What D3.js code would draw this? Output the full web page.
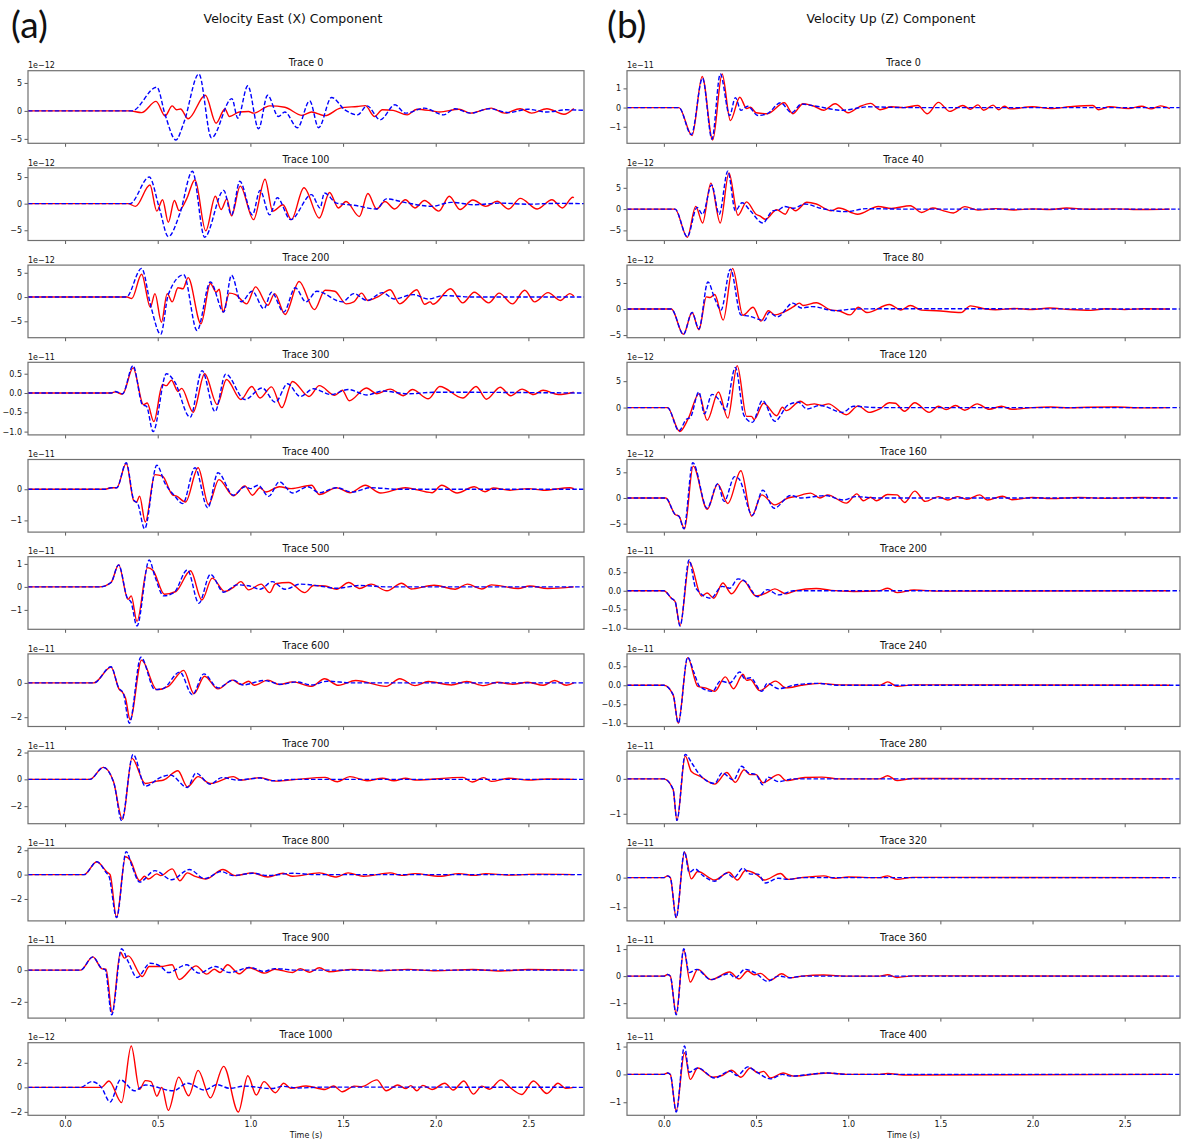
<!DOCTYPE html>
<html>
<head>
<meta charset="utf-8">
<script src="https://cdn.jsdelivr.net/npm/d3@7"></script>
<style>
  body { margin: 0; background: #fff; }
  svg text { font-family: "DejaVu Sans", sans-serif; fill: #111; }
</style>
</head>
<body>
<svg id="chart"></svg>
<script>
// time axis
const timeDomain = [-0.2, 2.8]
const timeTicks = [0, 0.5, 1.0, 1.5, 2.0, 2.5]

// left column: velocity east (X)
const eastTitles = ["Trace 0", "Trace 100", "Trace 200", "Trace 300", "Trace 400", "Trace 500",
                    "Trace 600", "Trace 700", "Trace 800", "Trace 900", "Trace 1000"]
const eastExp = ["1e−12", "1e−12", "1e−12", "1e−11", "1e−11", "1e−11",
                 "1e−11", "1e−11", "1e−11", "1e−11", "1e−12"]
const eastTicks = [[-5, 0, 5], [-5, 0, 5], [-5, 0, 5], [-1.0, -0.5, 0.0, 0.5], [-1, 0], [-1, 0, 1],
                   [-2, 0], [-2, 0, 2], [-2, 0, 2], [-2, 0], [-2, 0, 2]]

// right column: velocity up (Z)
const upTitles = ["Trace 0", "Trace 40", "Trace 80", "Trace 120", "Trace 160", "Trace 200",
                  "Trace 240", "Trace 280", "Trace 320", "Trace 360", "Trace 400"]
const upExp = ["1e−11", "1e−12", "1e−12", "1e−12", "1e−12", "1e−11",
               "1e−11", "1e−11", "1e−11", "1e−11", "1e−11"]
const upTicks = [[-1, 0, 1], [-5, 0, 5], [-5, 0, 5], [0, 5], [-5, 0, 5], [-1.0, -0.5, 0.0, 0.5],
                 [-1.0, -0.5, 0.0, 0.5], [-1, 0], [-1, 0], [-1, 0, 1], [-1, 0, 1]]

// traces, [time (s), value in units of the offset]; red = solid, blue = dashed
const east0Red = [[-0.2,0],[0.35,0],[0.413,-0.3],[0.491,1.7],[0.54,-0.9],[0.578,0.9],[0.602,0.2],[0.623,0.35],[0.664,-1.4],[0.757,2.8],[0.815,-2.2],[0.862,0.35],[0.887,-1.0],[0.94,-0.2],[0.99,-0.1],[1.017,-0.4],[1.104,0.9],[1.186,0.65],[1.279,-0.8],[1.33,-0.2],[1.403,-0.85],[1.485,0.5],[1.578,0.8],[1.62,0.95],[1.67,-1.0],[1.712,0.2],[1.77,0.1],[1.846,-0.7],[1.898,0.3],[1.98,0],[2.02,-0.2],[2.125,0.3],[2.187,-0.4],[2.3,0.5],[2.372,-0.4],[2.455,0.4],[2.517,-0.4],[2.6,0.4],[2.692,-0.6],[2.745,0.45]]
const east0Blue = [[-0.2,0],[0.36,0],[0.495,4.25],[0.54,-0.7],[0.598,-5.2],[0.64,-2.2],[0.722,6.6],[0.79,-4.8],[0.9,2.2],[0.932,-1.3],[0.986,4.5],[1.044,-3.2],[1.093,2.8],[1.151,-1.0],[1.186,-0.2],[1.254,-3.0],[1.32,1.8],[1.368,-3.0],[1.438,2.4],[1.51,0.2],[1.578,-0.7],[1.63,0.9],[1.7,-1.6],[1.78,1.1],[1.836,-0.4],[1.939,0.5],[2.042,-0.7],[2.104,0.4],[2.187,-0.4],[2.29,0.4],[2.393,-0.3],[2.496,0.3],[2.6,-0.2],[2.702,0.2],[2.8,0.1]]
const east100Red = [[-0.2,0],[0.34,0],[0.38,-0.5],[0.458,3.5],[0.495,-1.4],[0.526,0.75],[0.557,-3.5],[0.59,0.6],[0.615,-1.3],[0.656,0.9],[0.701,4.5],[0.759,-5.1],[0.811,1.4],[0.842,-1.1],[0.873,0.9],[0.898,-2.3],[0.945,3.3],[1.017,-3.0],[1.079,4.6],[1.12,-1.4],[1.176,-0.2],[1.221,-3.0],[1.289,3.0],[1.372,-2.7],[1.427,2.1],[1.475,-0.8],[1.516,0.4],[1.588,-2.4],[1.634,1.9],[1.681,-1.0],[1.726,0.4],[1.778,-1.0],[1.836,0.75],[1.888,-0.8],[1.939,0.6],[2.017,-1.4],[2.073,1.4],[2.131,-1.1],[2.2,0.7],[2.27,-0.5],[2.331,0.45],[2.394,-1.0],[2.456,1.0],[2.548,-1.0],[2.627,0.75],[2.683,-0.8],[2.74,1.2],[2.745,1.1]]
const east100Blue = [[-0.2,0],[0.35,0],[0.454,5.0],[0.51,-1.0],[0.557,-6.2],[0.62,-1.8],[0.687,6.1],[0.753,-6.3],[0.856,2.5],[0.898,-2.1],[0.943,4.2],[1.011,-2.1],[1.052,2.5],[1.104,-2.1],[1.145,1.1],[1.217,-3.0],[1.33,1.7],[1.376,-0.8],[1.399,2.0],[1.465,0.1],[1.56,-0.3],[1.681,-1.0],[1.733,0.9],[1.85,0.1],[1.98,-0.5],[2.083,0.25],[2.207,-0.2],[2.35,0.1],[2.5,-0.1],[2.65,0.05],[2.8,0]]
const east200Red = [[-0.2,0],[0.335,0],[0.36,-0.3],[0.413,4.7],[0.46,-2.1],[0.485,0.7],[0.52,-5.2],[0.551,0.7],[0.578,-1.0],[0.609,1.9],[0.636,1.7],[0.664,4.0],[0.733,-5.5],[0.784,2.8],[0.815,1.0],[0.832,1.6],[0.852,-3.1],[0.887,0.8],[0.92,0.5],[0.98,-1.4],[1.028,2.1],[1.094,-1.7],[1.131,0.7],[1.187,-3.6],[1.263,3.2],[1.345,-2.6],[1.403,1.4],[1.455,1.2],[1.517,-1.4],[1.558,-1.0],[1.6,0.8],[1.634,-0.7],[1.69,0.1],[1.754,1.5],[1.806,-1.4],[1.898,1.5],[1.94,-1.5],[1.97,-1.0],[1.985,-1.5],[2.08,1.7],[2.146,-1.2],[2.208,1.0],[2.286,-1.2],[2.342,0.8],[2.414,-1.4],[2.48,1.4],[2.534,-1.0],[2.606,0.9],[2.672,-0.7],[2.724,0.7],[2.745,0.2]]
const east200Blue = [[-0.2,0],[0.33,0],[0.413,5.9],[0.464,-2.1],[0.516,-7.7],[0.557,0.5],[0.64,4.6],[0.712,-6.9],[0.784,3.1],[0.856,-3.1],[0.898,4.5],[0.95,-1.0],[1.01,1.2],[1.073,-2.4],[1.114,1.0],[1.18,-3.1],[1.242,1.9],[1.3,-1.0],[1.358,1.2],[1.496,-1.0],[1.558,0.7],[1.63,-0.7],[1.713,0.9],[1.775,-0.4],[1.878,0.5],[1.96,-0.4],[2.043,0.3],[2.2,0],[2.8,0]]
const east300Red = [[-0.2,0],[0.25,0],[0.27,0.03],[0.31,-0.03],[0.367,0.65],[0.423,-0.3],[0.443,-0.26],[0.479,-0.74],[0.526,0.22],[0.547,0.19],[0.574,0.33],[0.609,0.04],[0.629,0.12],[0.691,-0.5],[0.753,0.5],[0.821,-0.3],[0.871,0.35],[0.949,-0.17],[1.007,0.17],[1.052,-0.13],[1.114,0.16],[1.17,-0.38],[1.227,0.3],[1.316,-0.09],[1.372,0.19],[1.455,-0.06],[1.496,0.07],[1.533,-0.2],[1.626,0.13],[1.682,-0.02],[1.754,0.1],[1.826,-0.07],[1.874,0.09],[1.96,-0.15],[2.022,0.17],[2.146,-0.13],[2.218,0.17],[2.274,-0.16],[2.348,0.15],[2.404,-0.07],[2.466,0.1],[2.528,-0.04],[2.579,0.07],[2.662,-0.04],[2.745,0.02]]
const east300Blue = [[-0.2,0],[0.25,0],[0.27,0.04],[0.31,-0.02],[0.367,0.71],[0.417,-0.3],[0.44,-0.35],[0.475,-1.0],[0.547,0.5],[0.59,0.3],[0.675,-0.63],[0.739,0.58],[0.809,-0.48],[0.867,0.49],[0.97,-0.17],[1.063,0.13],[1.135,-0.24],[1.2,0.24],[1.269,-0.09],[1.341,0.11],[1.434,-0.04],[1.527,0.09],[1.63,-0.05],[1.713,0.05],[1.85,-0.02],[2.0,0.02],[2.8,0]]
const east400Red = [[-0.2,0],[0.217,0],[0.248,0.05],[0.279,0.05],[0.33,0.83],[0.371,-0.37],[0.386,-0.41],[0.402,-0.22],[0.433,-1.05],[0.485,0.47],[0.526,0.42],[0.578,-0.17],[0.602,-0.22],[0.65,-0.41],[0.718,0.69],[0.774,-0.49],[0.83,0.31],[0.908,-0.21],[0.97,0.11],[1.011,-0.19],[1.052,0.05],[1.083,-0.09],[1.156,0.08],[1.22,0.02],[1.33,0.13],[1.372,-0.17],[1.465,0.05],[1.537,-0.11],[1.62,0.13],[1.702,-0.12],[1.836,0.05],[1.98,-0.11],[2.032,0.13],[2.115,-0.12],[2.208,0.08],[2.266,-0.08],[2.31,0.04],[2.4,-0.03],[2.5,0.02],[2.58,-0.03],[2.724,0.05],[2.745,0.02]]
const east400Blue = [[-0.2,0],[0.217,0],[0.248,0.05],[0.279,0.05],[0.33,0.85],[0.371,-0.35],[0.392,-0.46],[0.429,-1.27],[0.495,0.77],[0.54,0.18],[0.588,-0.19],[0.635,-0.46],[0.701,0.69],[0.77,-0.6],[0.825,0.53],[0.908,-0.19],[0.97,0.08],[1.0,0.02],[1.042,0.13],[1.098,-0.23],[1.156,0.24],[1.228,-0.12],[1.31,0.08],[1.372,-0.11],[1.465,0.05],[1.548,-0.09],[1.65,0.05],[1.8,0],[2.8,0]]
const east500Red = [[-0.2,0],[0.186,0],[0.248,0.19],[0.289,0.96],[0.34,-0.54],[0.357,-0.39],[0.388,-1.5],[0.445,0.84],[0.475,0.71],[0.536,-0.32],[0.598,-0.2],[0.677,0.7],[0.738,-0.57],[0.794,0.38],[0.862,-0.2],[0.908,-0.02],[0.949,0.23],[0.99,-0.13],[1.058,0.12],[1.104,-0.25],[1.135,0.14],[1.207,0.19],[1.293,-0.25],[1.341,0.06],[1.403,0.04],[1.465,-0.1],[1.531,0.19],[1.589,-0.07],[1.651,0.12],[1.737,-0.17],[1.816,0.16],[1.867,-0.09],[1.991,0.07],[2.105,-0.1],[2.171,0.12],[2.249,-0.09],[2.3,0.09],[2.445,-0.07],[2.507,0.04],[2.604,-0.07],[2.745,0]]
const east500Blue = [[-0.2,0],[0.186,0],[0.248,0.19],[0.289,0.96],[0.336,-0.49],[0.355,-0.64],[0.388,-1.7],[0.454,1.17],[0.485,0.45],[0.532,-0.39],[0.588,-0.25],[0.66,0.74],[0.722,-0.71],[0.784,0.55],[0.856,-0.23],[0.929,0.09],[0.99,0.05],[1.052,-0.1],[1.118,0.23],[1.187,-0.1],[1.269,0.12],[1.372,0.04],[1.465,-0.06],[1.59,0.06],[1.75,0],[2.8,0]]
const east600Red = [[-0.2,0],[0.155,0],[0.248,0.92],[0.293,-0.39],[0.31,-0.55],[0.326,-0.88],[0.351,-2.15],[0.413,1.33],[0.495,-0.39],[0.557,-0.2],[0.64,0.73],[0.695,-0.63],[0.753,0.39],[0.825,-0.35],[0.904,0.16],[0.949,-0.1],[0.99,0.1],[1.021,-0.14],[1.094,0.16],[1.156,-0.1],[1.228,0.06],[1.331,-0.2],[1.4,0.24],[1.475,-0.14],[1.568,0.14],[1.733,-0.2],[1.806,0.24],[1.888,-0.16],[1.96,0.08],[2.084,-0.12],[2.167,0.08],[2.26,-0.16],[2.332,0.04],[2.415,-0.08],[2.497,0.04],[2.58,-0.14],[2.642,0.14],[2.705,-0.14],[2.745,0]]
const east600Blue = [[-0.2,0],[0.155,0],[0.248,0.94],[0.289,-0.29],[0.314,-0.59],[0.347,-2.35],[0.409,1.5],[0.485,-0.39],[0.526,-0.35],[0.619,0.63],[0.687,-0.69],[0.749,0.53],[0.825,-0.29],[0.908,0.16],[0.96,-0.12],[1.073,0.14],[1.166,-0.08],[1.248,0.06],[1.331,-0.12],[1.414,0.1],[1.55,0],[2.8,0]]
const east700Red = [[-0.2,0],[0.134,0],[0.206,0.89],[0.26,-0.1],[0.31,-2.98],[0.361,1.56],[0.433,-0.31],[0.495,-0.13],[0.532,-0.05],[0.609,0.64],[0.66,-0.56],[0.718,0.2],[0.784,-0.31],[0.908,0.2],[0.949,-0.05],[1.052,0.13],[1.135,-0.13],[1.25,0],[1.403,0.15],[1.469,-0.18],[1.537,0.2],[1.63,-0.1],[1.713,0.08],[1.775,-0.1],[1.837,0.08],[1.889,-0.05],[2.146,0.15],[2.197,-0.2],[2.259,0.13],[2.3,-0.15],[2.394,0.08],[2.5,-0.05],[2.6,0.03],[2.745,0]]
const east700Blue = [[-0.2,0],[0.134,0],[0.206,0.89],[0.264,-0.31],[0.305,-3.06],[0.367,1.86],[0.433,-0.51],[0.516,0.15],[0.567,0.33],[0.66,-0.61],[0.706,0.46],[0.784,-0.36],[0.846,0.13],[0.929,-0.05],[1.052,0.1],[1.114,-0.1],[1.25,0],[2.8,0]]
const east800Red = [[-0.2,0],[0.103,0],[0.171,1.06],[0.227,0.2],[0.243,0],[0.278,-3.53],[0.326,1.47],[0.351,1.2],[0.402,-0.5],[0.429,-0.14],[0.45,-0.36],[0.495,0.06],[0.516,-0.08],[0.578,0.47],[0.619,-0.5],[0.66,0.14],[0.702,-0.14],[0.76,-0.36],[0.852,0.42],[0.918,-0.08],[1.011,0.14],[1.094,-0.2],[1.176,0.11],[1.228,-0.14],[1.372,0.14],[1.465,-0.2],[1.527,0.14],[1.61,-0.14],[1.754,0.14],[1.816,-0.06],[1.888,0.08],[2.022,-0.14],[2.125,0.08],[2.207,-0.06],[2.27,0.08],[2.4,-0.04],[2.55,0.04],[2.745,0]]
const east800Blue = [[-0.2,0],[0.103,0],[0.171,1.06],[0.223,0.14],[0.237,-0.14],[0.278,-3.53],[0.33,1.89],[0.361,0.7],[0.402,-0.61],[0.485,0.33],[0.574,-0.42],[0.671,0.42],[0.753,-0.33],[0.842,0.25],[0.908,-0.08],[1.011,0.11],[1.094,-0.08],[1.228,0.11],[1.35,0],[2.8,0]]
const east900Red = [[-0.2,0],[0.083,0],[0.15,0.84],[0.2,0.08],[0.221,0.06],[0.254,-2.67],[0.299,1.14],[0.32,0.76],[0.341,0.9],[0.417,-0.4],[0.454,0.23],[0.516,0.23],[0.578,0.34],[0.615,-0.59],[0.706,0.27],[0.764,-0.25],[0.805,0.06],[0.836,-0.15],[0.877,0.34],[0.939,-0.23],[0.99,0.17],[1.079,-0.19],[1.131,0.06],[1.228,-0.15],[1.269,0.1],[1.32,-0.13],[1.372,0.15],[1.424,-0.1],[1.55,0.05],[1.7,-0.05],[1.85,0.05],[2.0,-0.04],[2.2,0.04],[2.35,-0.05],[2.5,0.04],[2.745,0]]
const east900Blue = [[-0.2,0],[0.083,0],[0.15,0.84],[0.196,0.13],[0.217,0.02],[0.252,-2.82],[0.305,1.35],[0.34,0.55],[0.388,-0.46],[0.46,0.44],[0.516,0.23],[0.557,-0.15],[0.656,0.34],[0.722,-0.19],[0.811,0.23],[0.887,-0.15],[1.0,0.17],[1.073,-0.08],[1.131,0.1],[1.25,0],[2.8,0]]
const east1000Red = [[-0.2,0],[0.196,0],[0.237,0.52],[0.305,-1.24],[0.357,3.37],[0.402,-0.16],[0.433,0.55],[0.464,0.47],[0.495,-0.72],[0.522,0],[0.557,-1.88],[0.613,0.83],[0.667,-0.69],[0.718,1.38],[0.784,-0.86],[0.856,1.71],[0.935,-2.01],[0.986,0.94],[1.032,-0.63],[1.073,0.47],[1.135,-0.44],[1.18,0.33],[1.217,-0.08],[1.3,0.11],[1.403,-0.17],[1.449,0.11],[1.496,-0.36],[1.56,0.1],[1.6,0.05],[1.682,0.61],[1.733,-0.28],[1.795,0.19],[1.84,-0.1],[1.866,0.14],[1.898,-0.28],[1.93,0.16],[1.98,-0.17],[2.049,0.33],[2.094,-0.22],[2.152,0.52],[2.203,-0.55],[2.249,0.1],[2.29,-0.15],[2.352,0.61],[2.4,0],[2.465,-0.58],[2.527,0.52],[2.6,-0.5],[2.66,0.33],[2.7,-0.08],[2.745,0]]
const east1000Blue = [[-0.2,0],[0.083,0],[0.144,0.47],[0.196,0],[0.243,-1.19],[0.299,0.61],[0.375,-0.28],[0.433,0.19],[0.584,-0.28],[0.66,0.33],[0.753,-0.22],[0.821,0.22],[0.887,-0.08],[0.97,0.1],[1.114,-0.1],[1.176,0.08],[1.258,-0.05],[1.4,0.02],[2.8,0]]

const up0Red = [[-0.2,0],[0.082,0],[0.153,-1.46],[0.208,1.62],[0.265,-1.69],[0.316,1.75],[0.361,-0.68],[0.412,0.54],[0.449,-0.05],[0.47,0.02],[0.5,-0.27],[0.561,-0.32],[0.653,0.25],[0.7,-0.32],[0.755,0.2],[0.816,0.07],[0.867,-0.14],[0.929,0.2],[1.0,-0.27],[1.06,0.04],[1.122,0.22],[1.173,-0.11],[1.235,0.04],[1.3,0],[1.378,0.11],[1.429,-0.32],[1.49,0.27],[1.551,-0.2],[1.622,0.11],[1.663,-0.09],[1.704,0.14],[1.735,-0.14],[1.786,0.13],[1.816,-0.11],[1.847,0.07],[1.878,-0.07],[2.0,0.04],[2.1,-0.05],[2.2,0.04],[2.327,0.11],[2.357,-0.11],[2.418,0.04],[2.52,-0.05],[2.592,0.07],[2.643,-0.07],[2.694,0.09],[2.745,-0.05]]
const up0Blue = [[-0.2,0],[0.082,0],[0.149,-1.41],[0.21,1.53],[0.261,-1.64],[0.306,1.75],[0.357,-0.41],[0.388,0.52],[0.418,-0.14],[0.455,0.07],[0.51,-0.41],[0.561,-0.32],[0.633,0.25],[0.694,-0.27],[0.745,0.18],[0.827,0.07],[0.965,-0.14],[1.112,0.04],[1.3,0],[2.8,0]]
const up40Red = [[-0.2,0],[0.061,0],[0.127,-6.6],[0.173,0.65],[0.21,-3.25],[0.255,6.1],[0.306,-3.25],[0.353,8.5],[0.402,-1.46],[0.449,1.7],[0.5,-1.2],[0.52,-1.6],[0.551,-2.4],[0.612,-0.16],[0.659,-1.2],[0.684,0.4],[0.714,-0.4],[0.776,1.6],[0.827,1.2],[0.908,-0.4],[0.949,0.25],[1.051,-1.2],[1.163,0.6],[1.235,0.16],[1.337,0.8],[1.398,-0.8],[1.459,0.25],[1.51,-0.3],[1.571,-0.9],[1.633,0.57],[1.704,-0.25],[1.8,0.1],[1.9,-0.2],[2.0,0.05],[2.1,-0.1],[2.184,0.25],[2.3,-0.05],[2.45,0.05],[2.6,-0.1],[2.745,0]]
const up40Blue = [[-0.2,0],[0.061,0],[0.127,-6.5],[0.18,0.4],[0.21,-1.2],[0.259,5.7],[0.3,-1.2],[0.347,8.9],[0.388,-0.4],[0.424,1.5],[0.469,-0.4],[0.537,-3.25],[0.59,-0.4],[0.622,-0.2],[0.653,0.6],[0.704,0.2],[0.765,1.2],[0.85,0.2],[0.99,-0.6],[1.1,0.1],[1.3,0],[2.8,0]]
const up80Red = [[-0.2,0],[0.041,0],[0.106,-4.87],[0.153,-0.67],[0.19,-4.0],[0.231,2.33],[0.251,2.2],[0.276,2.8],[0.322,-2.13],[0.373,7.8],[0.429,-1.2],[0.484,0.33],[0.527,-2.33],[0.567,-0.33],[0.602,-1.13],[0.65,-0.6],[0.704,0.47],[0.735,1.13],[0.755,0.67],[0.827,1.2],[0.908,-0.2],[0.949,-0.33],[1.01,-1.13],[1.055,0.33],[1.102,-0.67],[1.224,0.87],[1.286,-0.2],[1.337,0.67],[1.398,-0.2],[1.48,-0.33],[1.612,-0.67],[1.663,0.6],[1.745,0],[1.8,-0.15],[1.9,0.1],[2.0,-0.1],[2.092,0.2],[2.2,-0.1],[2.316,-0.25],[2.4,0.05],[2.5,-0.1],[2.6,0.05],[2.745,0]]
const up80Blue = [[-0.2,0],[0.041,0],[0.106,-4.87],[0.153,-0.67],[0.19,-3.8],[0.239,5.2],[0.276,2.0],[0.31,-0.2],[0.361,7.67],[0.418,-1.13],[0.459,-1.33],[0.547,-2.2],[0.571,-0.67],[0.616,-1.5],[0.7,1.13],[0.745,0.2],[0.806,0.47],[0.929,-0.33],[1.03,0],[1.2,0.05],[2.8,0]]
const up120Red = [[-0.2,0],[0.02,0],[0.086,-4.55],[0.133,-2.05],[0.19,2.6],[0.235,-2.4],[0.296,2.95],[0.347,-2.0],[0.398,7.95],[0.449,-1.67],[0.475,-1.67],[0.49,-2.25],[0.541,0.83],[0.612,-1.54],[0.643,0.06],[0.663,-0.58],[0.741,1.2],[0.776,0.5],[0.816,0.7],[0.857,0.4],[0.892,0.7],[0.99,-1.35],[1.055,0.32],[1.112,-0.9],[1.173,-0.2],[1.224,0.9],[1.255,0.83],[1.306,-0.7],[1.361,0.9],[1.439,-0.9],[1.49,0.26],[1.531,-0.38],[1.582,0.38],[1.633,-0.5],[1.7,0.7],[1.765,-0.32],[1.831,0.26],[1.888,-0.32],[2.0,0],[2.1,0.1],[2.2,-0.05],[2.3,0.05],[2.45,0.1],[2.6,-0.05],[2.745,0]]
const up120Blue = [[-0.2,0],[0.02,0],[0.082,-4.4],[0.122,-2.2],[0.143,-1.9],[0.19,2.95],[0.22,-1.2],[0.261,2.5],[0.302,1.35],[0.333,-0.45],[0.388,7.6],[0.435,-1.54],[0.48,-2.8],[0.535,1.35],[0.602,-2.6],[0.673,0.45],[0.73,1.0],[0.776,-0.26],[0.847,0.4],[0.969,-0.9],[1.03,0.26],[1.15,0],[2.8,0]]
const up160Red = [[-0.2,0],[0.01,0],[0.061,-3.2],[0.082,-3.55],[0.112,-6.0],[0.159,6.2],[0.235,-2.2],[0.292,2.7],[0.347,-1.07],[0.418,5.3],[0.476,-3.55],[0.531,0.6],[0.602,-1.34],[0.673,0],[0.714,0.27],[0.796,0.94],[0.847,0],[0.888,0.6],[0.99,-1.0],[1.047,0.8],[1.082,-0.54],[1.122,0.13],[1.153,-0.54],[1.214,0.67],[1.265,0.6],[1.306,-0.87],[1.361,1.34],[1.418,-0.67],[1.49,0.27],[1.541,-0.4],[1.592,0.27],[1.643,-0.27],[1.714,0.6],[1.755,-0.4],[1.837,0.33],[1.888,-0.33],[2.0,0.1],[2.1,-0.1],[2.25,0.1],[2.4,-0.05],[2.6,0.1],[2.745,0]]
const up160Blue = [[-0.2,0],[0.01,0],[0.061,-3.2],[0.082,-3.55],[0.108,-6.0],[0.157,6.85],[0.235,-2.0],[0.292,2.8],[0.327,-0.67],[0.384,4.15],[0.408,3.7],[0.48,-3.35],[0.537,1.5],[0.598,-2.0],[0.688,0.47],[0.745,0],[0.878,0.47],[0.973,-0.4],[1.04,0.27],[1.15,0],[2.8,0]]
const up200Red = [[-0.2,0],[0,0],[0.041,-0.2],[0.061,-0.29],[0.088,-0.94],[0.139,0.78],[0.204,-0.14],[0.235,-0.06],[0.271,-0.2],[0.32,0.21],[0.367,-0.08],[0.429,0.28],[0.5,-0.14],[0.551,-0.07],[0.602,0.05],[0.663,-0.08],[0.714,0],[0.827,0.06],[0.908,0.01],[1.031,-0.02],[1.17,0],[1.214,0.07],[1.265,-0.05],[1.357,0.02],[1.5,-0.01],[2.745,0]]
const up200Blue = [[-0.2,0],[0,0],[0.041,-0.2],[0.061,-0.29],[0.088,-0.95],[0.137,0.83],[0.173,0.07],[0.255,-0.2],[0.316,0.12],[0.357,0.07],[0.402,0.32],[0.439,0.26],[0.51,-0.16],[0.561,0.03],[0.622,-0.11],[0.704,0],[2.8,0]]
const up240Red = [[-0.2,0],[0,0],[0.051,-0.26],[0.078,-1.0],[0.129,0.73],[0.184,-0.03],[0.224,-0.07],[0.276,-0.16],[0.333,0.22],[0.378,-0.09],[0.429,0.29],[0.449,0.13],[0.469,0.15],[0.52,-0.14],[0.606,0.11],[0.663,-0.07],[0.745,0],[0.847,0.05],[0.95,0.01],[1.17,0],[1.214,0.09],[1.265,-0.03],[1.35,0.01],[2.745,0]]
const up240Blue = [[-0.2,0],[0,0],[0.051,-0.26],[0.078,-1.0],[0.129,0.74],[0.163,0.34],[0.194,-0.03],[0.265,-0.16],[0.306,0.11],[0.357,0.06],[0.412,0.35],[0.439,0.17],[0.469,0.2],[0.531,-0.16],[0.561,0.05],[0.622,-0.09],[0.704,0],[0.827,0.05],[0.95,0],[2.8,0]]
const up280Red = [[-0.2,0],[0,0],[0.05,-0.3],[0.071,-1.19],[0.116,0.65],[0.149,0.21],[0.198,0.07],[0.276,-0.15],[0.341,0.18],[0.388,-0.1],[0.435,0.26],[0.469,0.12],[0.5,0.12],[0.537,-0.11],[0.622,0.12],[0.663,-0.05],[0.765,0.04],[0.857,0.05],[0.95,0],[1.17,0],[1.214,0.09],[1.265,-0.05],[1.35,0.01],[2.745,0]]
const up280Blue = [[-0.2,0],[0,0],[0.05,-0.3],[0.071,-1.19],[0.116,0.7],[0.153,0.44],[0.194,0.12],[0.276,-0.13],[0.316,0.17],[0.378,-0.03],[0.422,0.36],[0.459,0.17],[0.5,0.12],[0.537,-0.17],[0.565,0.05],[0.622,-0.08],[0.704,0],[2.8,0]]
const up320Red = [[-0.2,0],[0,0],[0.02,0.06],[0.035,0],[0.067,-1.35],[0.112,0.86],[0.149,-0.04],[0.184,0.21],[0.276,-0.08],[0.353,0.18],[0.398,-0.08],[0.443,0.24],[0.5,0.12],[0.545,-0.08],[0.633,0.14],[0.673,-0.06],[0.745,0],[0.867,0.06],[0.929,-0.02],[1.0,0.02],[1.17,0],[1.214,0.06],[1.265,-0.06],[1.35,0.01],[2.745,0]]
const up320Blue = [[-0.2,0],[0,0],[0.02,0.06],[0.035,0],[0.067,-1.35],[0.112,0.88],[0.137,0.18],[0.169,0.29],[0.214,0.06],[0.276,-0.12],[0.341,0.15],[0.38,0],[0.429,0.32],[0.469,0.12],[0.51,0.12],[0.551,-0.18],[0.62,-0.02],[0.673,-0.06],[0.75,0],[2.8,0]]
const up360Red = [[-0.2,0],[0,0],[0.02,0.06],[0.035,0],[0.067,-1.39],[0.108,0.97],[0.143,-0.22],[0.184,0.25],[0.255,-0.13],[0.357,0.15],[0.408,-0.1],[0.455,0.19],[0.49,0.05],[0.524,0.1],[0.578,-0.15],[0.639,0.09],[0.684,-0.06],[0.75,0],[0.867,0.04],[1.0,0],[1.17,0],[1.214,0.05],[1.265,-0.05],[1.35,0.01],[2.745,0]]
const up360Blue = [[-0.2,0],[0,0],[0.02,0.06],[0.035,0],[0.067,-1.43],[0.108,1.01],[0.137,0.13],[0.178,0.25],[0.255,-0.13],[0.353,0.09],[0.388,-0.06],[0.439,0.25],[0.5,0.1],[0.561,-0.19],[0.622,0],[0.684,-0.06],[0.75,0],[2.8,0]]
const up400Red = [[-0.2,0],[0,0],[0.02,0.05],[0.035,0],[0.067,-1.31],[0.112,0.78],[0.143,-0.18],[0.184,0.23],[0.265,-0.1],[0.316,-0.04],[0.367,0.15],[0.418,-0.1],[0.469,0.23],[0.51,0.06],[0.541,0.11],[0.578,-0.13],[0.647,0.05],[0.704,-0.06],[0.886,0.05],[1.0,0],[1.17,0],[1.214,0.03],[1.3,-0.02],[2.745,0]]
const up400Blue = [[-0.2,0],[0,0],[0.02,0.05],[0.035,0],[0.067,-1.35],[0.112,1.02],[0.137,0.08],[0.184,0.23],[0.276,-0.13],[0.357,0.12],[0.398,-0.04],[0.455,0.27],[0.5,0.1],[0.578,-0.16],[0.643,0],[0.684,-0.06],[0.886,0.05],[1.0,0],[2.8,0]]

const eastRed = [east0Red, east100Red, east200Red, east300Red, east400Red, east500Red,
                 east600Red, east700Red, east800Red, east900Red, east1000Red]
const eastBlue = [east0Blue, east100Blue, east200Blue, east300Blue, east400Blue, east500Blue,
                  east600Blue, east700Blue, east800Blue, east900Blue, east1000Blue]
const upRed = [up0Red, up40Red, up80Red, up120Red, up160Red, up200Red,
               up240Red, up280Red, up320Red, up360Red, up400Red]
const upBlue = [up0Blue, up40Blue, up80Blue, up120Blue, up160Blue, up200Blue,
                up240Blue, up280Blue, up320Blue, up360Blue, up400Blue]

//svg
const svg = d3.select("svg#chart")
              .attr("width", 1183)
              .attr("height", 1146)

//layout
const columns = [
  {left: 28, right: 584, label: "(a)", labelX: 11, header: "Velocity East (X) Component", headerX: 293,
   titles: eastTitles, exps: eastExp, ticks: eastTicks, red: eastRed, blue: eastBlue},
  {left: 627, right: 1180, label: "(b)", labelX: 607, header: "Velocity Up (Z) Component", headerX: 891,
   titles: upTitles, exps: upExp, ticks: upTicks, red: upRed, blue: upBlue}
]
const rowTop = 70.7, rowStep = 97.2, panelH = 72.6
const minus = s => s.replace(/-/g, "\u2212")

columns.forEach((col, ci) => {
    //column label + header
    svg.append("text")
       .attr("x", col.labelX)
       .attr("y", 37.5)
       .style("font-family", "Lato, 'Open Sans', sans-serif")
       .style("font-size", "37px")
       .text(col.label)

    svg.append("text")
       .attr("x", col.headerX)
       .attr("y", 22.5)
       .attr("text-anchor", "middle")
       .style("font-size", "12.5px")
       .text(col.header)

    const x = d3.scaleLinear().domain(timeDomain).range([col.left, col.right])

    col.titles.forEach((title, i) => {
        const top = rowTop + rowStep * i
        const bottom = top + panelH
        const red = col.red[i], blue = col.blue[i]

        //matplotlib style autoscale, 5% margin
        const ext = d3.extent(red.concat(blue), d => d[1])
        const pad = (ext[1] - ext[0]) * 0.05
        const y = d3.scaleLinear().domain([ext[0] - pad, ext[1] + pad]).range([bottom, top])

        const g = svg.append("g")
        const clipId = "clip" + ci + "_" + i
        g.append("clipPath")
         .attr("id", clipId)
         .append("rect")
         .attr("x", col.left)
         .attr("y", top)
         .attr("width", col.right - col.left)
         .attr("height", panelH)

        const line = d3.line()
                       .x(d => x(d[0]))
                       .y(d => y(d[1]))
                       .curve(d3.curveMonotoneX)

        //predicted (red, solid)
        g.append("path")
         .attr("d", line(red))
         .attr("clip-path", "url(#" + clipId + ")")
         .attr("fill", "none")
         .attr("stroke", "#ff0000")
         .attr("stroke-width", 1.4)

        //reference (blue, dashed)
        g.append("path")
         .attr("d", line(blue))
         .attr("clip-path", "url(#" + clipId + ")")
         .attr("fill", "none")
         .attr("stroke", "#0000ff")
         .attr("stroke-width", 1.4)
         .attr("stroke-dasharray", "4.5,2.2")

        //y axis
        const ticks = col.ticks[i]
        const fmt = ticks.some(t => t % 1 !== 0) ? d3.format(".1f") : d3.format("d")
        const yAxis = g.append("g")
                       .attr("transform", "translate(" + col.left + ",0)")
                       .call(d3.axisLeft(y).tickValues(ticks).tickSize(3.5).tickPadding(2.5)
                               .tickFormat(d => minus(fmt(d))))
        yAxis.select(".domain").remove()

        //x axis
        const isBottom = i === col.titles.length - 1
        const xAxis = g.append("g")
                       .attr("transform", "translate(0," + bottom + ")")
                       .call(d3.axisBottom(x).tickValues(timeTicks).tickSize(3.5).tickPadding(3)
                               .tickFormat(isBottom ? d3.format(".1f") : ""))
        xAxis.select(".domain").remove()

        g.selectAll(".tick line").attr("stroke", "#333").attr("stroke-width", 0.8)
        g.selectAll(".tick text")
         .style("font-family", "'DejaVu Sans', sans-serif")
         .style("font-size", "8px")
         .attr("fill", "#222")

        //frame
        g.append("rect")
         .attr("x", col.left)
         .attr("y", top)
         .attr("width", col.right - col.left)
         .attr("height", panelH)
         .attr("fill", "none")
         .attr("stroke", "#707070")
         .attr("stroke-width", 1.2)

        //title and offset text
        g.append("text")
         .attr("x", (col.left + col.right) / 2)
         .attr("y", top - 4.5)
         .attr("text-anchor", "middle")
         .style("font-size", "9.6px")
         .text(title)

        g.append("text")
         .attr("x", col.left)
         .attr("y", top - 2.4)
         .style("font-size", "8px")
         .text(col.exps[i])

        if (isBottom) {
            g.append("text")
             .attr("x", (col.left + col.right) / 2)
             .attr("y", 1137.5)
             .attr("text-anchor", "middle")
             .style("font-size", "8px")
             .text("Time (s)")
        }
    })
})
</script>
</body>
</html>
